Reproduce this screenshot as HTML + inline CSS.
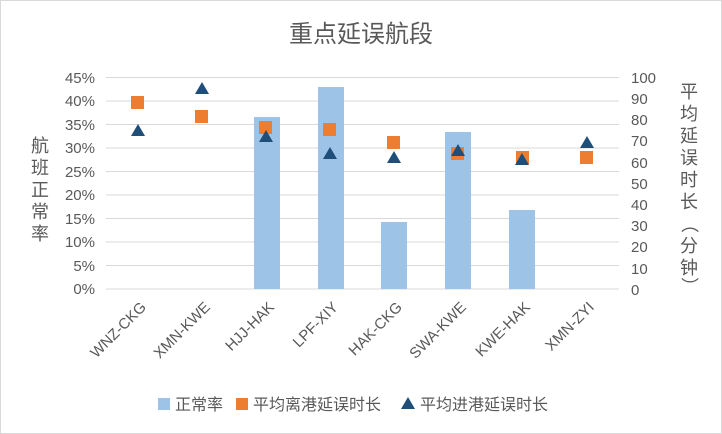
<!DOCTYPE html><html><head><meta charset="utf-8"><style>body{margin:0;background:#fff}svg{display:block}text{font-family:"Liberation Sans","Noto Sans CJK SC",sans-serif;fill:#595959}</style></head><body>
<svg width="722" height="434" viewBox="0 0 722 434">
<rect x="0.5" y="0.5" width="721" height="433" fill="#fff" stroke="#d9d9d9"/>
<text x="361" y="42" font-size="24" text-anchor="middle">重点延误航段</text>
<g stroke="#d9d9d9" stroke-width="1">
<line x1="106" x2="619" y1="77.5" y2="77.5"/><line x1="106" x2="619" y1="101" y2="101"/><line x1="106" x2="619" y1="124.5" y2="124.5"/><line x1="106" x2="619" y1="148" y2="148"/><line x1="106" x2="619" y1="171.5" y2="171.5"/><line x1="106" x2="619" y1="195" y2="195"/><line x1="106" x2="619" y1="218.5" y2="218.5"/><line x1="106" x2="619" y1="242" y2="242"/><line x1="106" x2="619" y1="265.5" y2="265.5"/><line x1="106" x2="619" y1="289" y2="289"/>
</g>
<g font-size="15" text-anchor="end">
<text x="95" y="83">45%</text><text x="95" y="106">40%</text><text x="95" y="130">35%</text><text x="95" y="153">30%</text><text x="95" y="177">25%</text><text x="95" y="200">20%</text><text x="95" y="224">15%</text><text x="95" y="247">10%</text><text x="95" y="271">5%</text><text x="95" y="294">0%</text>
</g>
<g font-size="15">
<text x="631" y="83">100</text><text x="631" y="104">90</text><text x="631" y="125">80</text><text x="631" y="146">70</text><text x="631" y="168">60</text><text x="631" y="189">50</text><text x="631" y="210">40</text><text x="631" y="231">30</text><text x="631" y="252">20</text><text x="631" y="274">10</text><text x="631" y="295">0</text>
</g>
<g font-size="18" text-anchor="middle">
<text x="40" y="152">航</text><text x="40" y="174">班</text><text x="40" y="196">正</text><text x="40" y="218">常</text><text x="40" y="240">率</text>
<text x="689" y="98">平</text><text x="689" y="120">均</text><text x="689" y="142">延</text><text x="689" y="164">误</text><text x="689" y="186">时</text><text x="689" y="208">长</text>
<text x="689" y="230" transform="rotate(90 689 224)">（</text><text x="689" y="252">分</text><text x="689" y="274">钟</text><text x="689" y="292" transform="rotate(90 689 286)">）</text>
</g>
<g fill="#9dc3e6">
<rect x="254" y="117" width="26" height="172"/><rect x="318" y="87" width="26" height="202"/><rect x="381" y="222" width="26" height="67"/><rect x="445" y="132" width="26" height="157"/><rect x="509" y="210" width="26" height="79"/>
</g>
<g fill="#ed7d31">
<rect x="131" y="96" width="13" height="13"/><rect x="195" y="110" width="13" height="13"/><rect x="259" y="121" width="13" height="13"/><rect x="323" y="123" width="13" height="13"/><rect x="387" y="136" width="13" height="13"/><rect x="451" y="147" width="13" height="13"/><rect x="516" y="151" width="13" height="13"/><rect x="580" y="151" width="13" height="13"/>
</g>
<g fill="#1f4e79">
<path d="M138 124l7 12h-14z"/><path d="M202 82l7 12h-14z"/><path d="M266 130l7 12h-14z"/><path d="M330 147l7 12h-14z"/><path d="M394 151l7 12h-14z"/><path d="M458 144l7 12h-14z"/><path d="M522 153l7 12h-14z"/><path d="M587 136l7 12h-14z"/>
</g>
<g font-size="15" text-anchor="end">
<text transform="translate(147 308) rotate(-45)">WNZ-CKG</text>
<text transform="translate(211 308) rotate(-45)">XMN-KWE</text>
<text transform="translate(275 308) rotate(-45)">HJJ-HAK</text>
<text transform="translate(339 308) rotate(-45)">LPF-XIY</text>
<text transform="translate(403 308) rotate(-45)">HAK-CKG</text>
<text transform="translate(467 308) rotate(-45)">SWA-KWE</text>
<text transform="translate(531 308) rotate(-45)">KWE-HAK</text>
<text transform="translate(595 308) rotate(-45)">XMN-ZYI</text>
</g>
<g font-size="16">
<rect x="158" y="398" width="12" height="12" fill="#9dc3e6"/><text x="175" y="410">正常率</text>
<rect x="236" y="398" width="12" height="12" fill="#ed7d31"/><text x="253" y="410">平均离港延误时长</text>
<path d="M408 397l7 12h-14z" fill="#1f4e79"/><text x="420" y="410">平均进港延误时长</text>
</g>
</svg></body></html>
